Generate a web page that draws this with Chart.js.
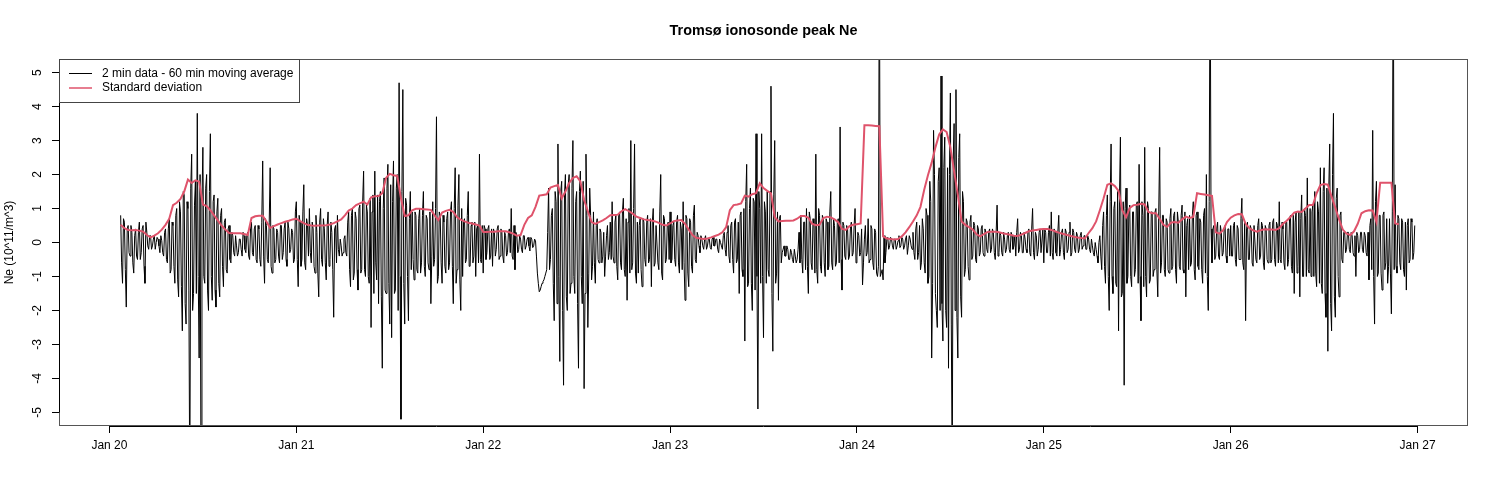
<!DOCTYPE html>
<html lang="en">
<head>
    <meta charset="UTF-8">
    <title>Tromsø ionosonde peak Ne</title>
    <script src="https://cdn.jsdelivr.net/npm/chart.js"></script>
    <style>
        html, body { margin: 0; padding: 0; background: #fff; }
        canvas { display: block; }
    </style>
</head>
<body>
    <canvas id="neChart" width="1500" height="500"></canvas>

    <script>
        // Axis labels
        const dayLabels = ['Jan 20', 'Jan 21', 'Jan 22', 'Jan 23', 'Jan 24', 'Jan 25', 'Jan 26', 'Jan 27'];
        const yTickValues = [-5, -4, -3, -2, -1, 0, 1, 2, 3, 4, 5];

        // 60 min moving average residuals (10^11/m^3), one value every 0.01 day
        const neStart = [0.06, 1, 2, 3, 4, 5, 6];
        const neDay0 = [0.8, -1.2, 0.6, -1.9,
            0.5, -0.4, 0.3, -0.9, 0.4, -0.5, 0.6, -0.3, 0.5, -1.2,
            0.3, -0.2, 0.2, -0.1, 0.2, 0.0, 0.1, -0.3, 0.05, -0.4,
            0.4, -0.6, 0.7, -0.8, 0.5, -1.2, 1.0, -1.6, 0.9, -2.6,
            1.4, -2.4, 1.0, -7.5, 2.6, -1.5, 1.8, 3.8, -3.4, -7.5,
            2.8, -1.2, 2.0, -2.0, 3.2, -1.7, 1.4, -1.9, 1.3, -1.6,
            1.0, -1.3, 0.7, -0.9, 0.5, -0.6, 0.2, -0.4, -0.1, -0.3,
            0.1, -0.4, 0.2, -0.3, 0.3, -0.5, 0.6, -0.4, 0.5, -0.6,
            0.4, -0.7, 2.4, -1.2, 0.5, -0.6, 2.2, -0.9, 0.4, -0.5,
            0.3, -0.6, 0.5, -0.3, 0.6, -0.7, 0.4, -0.2, 0.3, -0.5];
        const neDay1 = [1.2, -1.3, 0.6, -0.5, 1.7, -0.8, 0.5, 1.0, -0.6, 0.4,
            -0.9, 0.3, -1.6, 1.0, -0.7, 0.4, -1.1, 0.9, -0.5, 0.3,
            -2.2, 0.5, 0.8, -0.4, -0.1, -0.3, 0.2, -0.4, 0.9, -1.3,
            1.0, -0.9, 0.7, -1.4, 1.1, -0.8, 2.1, -1.0, 0.9, -1.2,
            -2.5, 1.4, 2.1, -1.1, -1.8, 1.5, -3.7, 1.9, -1.5, 2.3,
            -2.4, -2.8, 2.4, -1.4, 2.0, 4.7, -5.2, 4.5, -2.4, 1.1,
            -2.3, 1.5, 0.9, -1.1, 0.8, -0.9, 1.0, -0.6, 1.5, -1.0,
            0.7, -0.8, -1.8, 1.2, -0.5, 3.7, -1.0, 0.8, -1.2, 0.6,
            -0.9, 0.9, -0.6, 1.2, -1.8, 2.2, -0.8, 2.0, -2.0, -1.0,
            0.7, -0.5, 1.5, -0.7, 0.6, -0.4, -1.0, 0.5, 2.6, -0.6];
        const neDay2 = [-0.9, 0.4, -0.3, 0.5, -0.4, -0.7, 0.3, -0.2, 0.5, -0.4,
            0.3, -0.6, 0.2, -0.3, 0.4, 1.0, -0.5, -0.8, 0.2, -0.2,
            0.1, -0.3, 0.2, -0.1, 0.15, -0.25, 0.1, -0.1, 0.05, -0.9,
            -1.45, -1.3, -1.15, -1.0, -0.8, 1.6, -0.5, 1.0, -2.3, 1.2,
            2.9, -3.5, 1.8, -4.2, 2.0, -2.0, 2.0, -1.2, 3.0, -1.5,
            1.5, -3.7, 2.1, -1.8, -4.3, 2.6, -2.5, 1.6, -1.1, 0.9,
            -1.2, 0.7, -0.6, 0.3, -0.4, -1.0, 0.2, -0.5, 0.6, 1.2,
            -0.6, 0.8, -1.1, 0.9, -0.8, 1.3, -1.0, -1.7, 1.0, 3.0,
            -0.6, 2.9, -1.2, -0.9, 0.7, -1.3, 0.6, -0.7, 0.8, -0.5,
            -1.3, 1.0, -0.6, 0.5, -0.8, 2.0, -1.1, 0.7, -0.5, 0.6];
        const neDay3 = [0.9, -0.5, 0.6, -0.7, 0.8, -0.9, 0.4, 1.2, -1.7, 0.7,
            -1.3, 0.6, -0.9, 1.1, -0.6, 0.2, -0.3, 0.1, -0.2, 0.2,
            -0.1, 0.1, -0.2, 0.15, -0.1, 0.1, -0.3, 0.0, -0.2, 0.3,
            -0.4, 0.5, -0.6, 0.6, -0.9, 0.7, -0.5, -1.5, 0.9, -1.0,
            -2.9, 2.3, -1.2, 1.6, -2.0, 1.2, 3.2, -4.9, 1.0, 3.2,
            -2.8, 0.9, 1.5, -1.0, 4.6, -3.2, 3.0, -0.9, -1.7, 0.8,
            -0.3, -0.1, -0.4, -0.2, -0.5, -0.3, -0.6, -0.4, -0.5, 0.3,
            0.8, -0.9, 0.6, 1.0, -1.5, 0.7, -0.8, 0.5, 2.6, -1.2,
            0.8, -0.9, 0.7, -1.0, 0.6, -0.7, 1.5, -0.8, 0.5, -0.6,
            0.7, 3.4, -1.4, 0.5, -0.5, 0.4, -0.4, 0.6, -0.3, 1.0];
        const neDay4 = [-0.4, 0.2, -0.3, -1.25, 0.1, -0.4, 0.7, -0.5, 0.4, -0.8,
            0.3, -1.0, 9.0, -0.9, -1.1, -0.6, 0.1, -0.2, 0.15, -0.1,
            0.1, -0.2, 0.05, -0.15, 0.15, -0.2, 0.1, -0.35, 0.2, -0.1,
            0.3, -0.5, 0.6, -0.3, -0.8, 0.7, -0.6, 1.0, -1.2, 1.8,
            -3.4, 3.3, -1.5, -2.5, 2.2, 4.9, -2.9, 3.1, -2.5, -3.7,
            4.4, -7.0, 3.5, 4.5, -3.4, 3.2, -2.2, 1.2, -0.8, 0.6,
            -1.1, 0.8, -0.4, 0.5, -0.6, 0.4, -0.3, 0.5, -0.4, 0.3,
            -0.3, 0.4, -0.2, 0.3, -0.5, 1.1, -0.3, 0.2, -0.4, 0.1,
            -0.2, 0.3, -0.3, 0.2, -0.1, -0.4, 0.7, -0.2, 0.2, -0.3,
            0.1, -0.3, 0.4, -0.4, 1.0, -0.5, 0.2, -0.2, 0.4, -0.3];
        const neDay5 = [-0.6, 0.3, -0.3, 0.5, 0.9, -0.5, 0.3, -0.4, 0.8, -0.2,
            0.4, -0.5, 0.3, -0.2, 0.6, -0.3, 0.3, -0.3, 0.2, -0.2,
            0.3, -0.1, 0.2, -0.2, 0.1, -0.3, -0.1, -0.4, -0.2, -0.6,
            0.2, -0.8, 0.9, -1.2, 1.4, -2.0, 2.9, -1.5, 1.2, -1.3,
            -2.6, 3.1, -1.5, -4.2, 1.6, -1.0, 1.1, -1.3, 0.9, -0.8,
            1.2, 2.3, -2.3, 0.8, 2.8, -1.6, 1.0, -1.1, 0.9, -0.8,
            1.0, -1.6, 2.8, -0.6, 0.8, -1.0, 0.6, -0.9, 1.0, -0.7,
            0.9, -1.2, 0.6, -0.8, 1.1, -0.9, -1.6, 0.7, 0.8, -0.6,
            1.2, -1.1, 0.9, -0.8, 0.6, -1.2, 1.0, 2.0, -2.0, 9.0,
            -0.6, 0.5, -0.4, 0.6, -0.5, 0.3, -0.3, 0.5, -0.6, 0.4];
        const neDay6 = [0.5, -0.4, 0.6, -0.7, 0.4, -0.5, 1.3, -0.8, -2.3, 0.6,
            -0.5, 0.4, -0.7, 0.5, -0.6, 0.7, -0.4, 0.5, -0.8, 0.4,
            -0.6, 0.6, -0.5, 0.7, -0.7, 0.5, 1.2, -0.6, 0.4, -0.8,
            0.6, -0.5, 0.8, -0.9, -1.5, 0.9, -0.7, -1.6, 1.4, -1.0,
            0.8, 1.9, -0.9, -1.0, 1.1, 1.5, -1.3, 0.9, 2.2, -1.5,
            2.2, -2.2, -3.2, 2.9, -2.6, 3.8, -2.2, 1.6, -1.6, 0.9,
            -0.6, 0.3, -0.2, 0.3, -0.3, 0.2, -0.4, -1.0, 0.2, -0.2,
            0.3, -0.3, 0.2, -0.4, -1.1, 0.7, 3.3, -2.4, 1.8, -0.9,
            0.8, -1.4, 0.9, -0.6, -1.2, 0.7, -2.1, 9.0, 1.7, -0.9,
            0.7, -0.8, 0.6, -1.0, -1.4, 0.7, -0.5, 0.6, -0.3];

        // in-between readings, half a step (0.005 day) after each value above
        const neMid0 = [-0.6, 0.7, -0.8, 0.4,
            -0.3, 0.5, -0.6, 0.2, -0.4, 0.3, -0.5, 0.4, -0.7, 0.6,
            -0.1, 0.2, -0.2, 0.1, -0.2, 0.15, -0.1, 0.2, -0.3, 0.3,
            -0.5, 0.4, -0.9, 0.6, -0.7, 0.8, -1.1, 1.2, -1.3, 1.5,
            -1.8, 1.2, -1.4, 1.6, -2.0, 1.1, -1.5, -1.0, 2.0, 1.2,
            -1.0, 1.6, -1.4, 1.5, -1.0, 1.2, -1.4, 0.9, -1.2, 0.8,
            -0.7, 0.6, -0.8, 0.4, -0.5, 0.3, -0.3, 0.2, -0.4, 0.1,
            -0.2, 0.3, -0.2, 0.2, -0.4, 0.4, -0.3, 0.4, -0.5, 0.5,
            -0.5, 0.6, -0.4, 0.7, -0.5, 0.6, -0.7, 0.5, -0.6, 0.4,
            -0.4, 0.5, -0.5, 0.4, -0.5, 0.6, -0.3, 0.4, -0.6, 0.9];
        const neMid1 = [-0.5, 0.8, -0.7, 0.9, -0.6, 0.7, -0.4, -0.3, 0.6, -0.7,
            0.8, -0.9, 0.6, -0.5, 0.7, -0.6, 0.5, -0.7, 0.6, -0.8,
            0.4, -0.6, -0.2, 0.1, -0.4, 0.1, -0.3, 0.6, -0.8, 0.8,
            -1.1, 0.9, -0.8, 1.0, -0.9, 1.2, -0.8, 1.1, -1.0, 1.3,
            0.9, -1.5, -0.6, 1.4, 1.2, -1.6, 1.0, -1.4, 1.6, -1.2,
            1.7, 1.2, -1.5, 1.6, -2.0, -1.0, 1.5, -1.2, 1.3, -1.0,
            0.7, -0.8, -0.5, 0.9, -0.8, 0.7, -0.9, 0.8, -0.7, 0.8,
            -0.6, 0.9, -0.4, -0.7, 1.0, -1.2, 0.9, -0.6, 0.8, -0.7,
            0.7, -0.8, 0.9, -0.7, 1.0, -1.2, 1.1, -1.1, 1.0, 0.6,
            -0.6, 0.8, -0.7, 0.5, -0.6, 0.6, 0.4, -0.6, -0.5, 0.5];
        const neMid2 = [0.5, -0.5, 0.4, -0.5, 0.4, 0.4, -0.4, 0.4, -0.5, 0.4,
            -0.4, 0.3, -0.4, 0.3, -0.3, -0.4, 0.5, 0.3, -0.3, 0.2,
            -0.2, 0.2, -0.2, 0.1, -0.1, 0.15, -0.15, 0.1, -0.4, -1.2,
            -1.4, -1.2, -1.1, -0.9, 0.3, -0.8, 0.8, -1.2, 1.5, -1.8,
            -1.0, 1.5, -2.0, 1.4, -1.6, 1.7, -1.5, 1.6, -1.0, 1.2,
            -1.8, 1.5, -1.0, 1.8, -1.5, 0.8, -0.9, 0.8, -0.7, -0.6,
            0.5, -0.5, 0.4, -0.6, 0.3, -0.4, 0.5, -0.3, -0.5, -0.4,
            0.6, -0.7, 0.8, -0.6, 0.9, -0.8, 0.7, 0.6, -0.9, -0.8,
            1.0, -0.9, 0.6, 0.5, -0.8, 0.7, -0.5, 0.6, -0.6, 0.7,
            0.6, -0.7, 0.5, -0.6, 0.9, -0.9, 0.8, -0.6, 0.5, -0.5];
        const neMid3 = [-0.6, 0.5, -0.5, 0.6, -0.6, 0.6, -0.8, -0.6, 0.8, -0.9,
            0.7, -0.7, 0.8, -0.5, 0.3, -0.1, 0.2, -0.1, 0.1, -0.2,
            0.1, -0.15, 0.1, -0.1, 0.1, -0.2, 0.1, -0.1, 0.2, -0.2,
            0.3, -0.4, 0.5, -0.5, 0.6, -0.6, 0.6, 0.8, -0.8, 1.0,
            1.2, -1.3, 1.0, -1.2, 1.3, -1.4, -1.0, 1.5, -1.2, -1.0,
            1.2, -1.2, -0.8, 1.5, -1.5, 1.4, -1.2, 0.9, 0.7, -0.6,
            -0.2, -0.4, -0.1, -0.5, -0.2, -0.5, -0.2, -0.6, -0.2, -0.6,
            -0.5, 0.6, -0.8, -0.7, 0.9, -0.6, 0.7, -0.9, -0.8, 1.0,
            -0.7, 0.8, -0.6, 0.7, -0.8, 0.9, -0.6, 0.7, -0.7, 0.6,
            -0.6, -0.5, 0.6, -0.4, 0.5, -0.5, 0.4, -0.4, 0.5, -0.6];
        const neMid4 = [0.3, -0.4, 0.4, -0.6, 0.5, -0.3, -0.6, 0.5, -0.6, 0.4,
            -0.9, -0.7, -1.0, -0.8, 0.2, -0.3, 0.15, -0.1, 0.1, -0.2,
            0.1, -0.1, 0.2, -0.1, 0.1, -0.1, 0.2, -0.1, 0.1, -0.2,
            -0.3, 0.4, -0.5, 0.5, -0.6, 0.4, -0.9, 0.8, -1.0, 1.2,
            -1.2, 2.0, -2.0, 1.8, -2.0, -1.8, 2.2, -2.0, 2.2, 2.0,
            -2.4, 2.4, -2.0, -2.2, 2.5, -1.6, 1.5, -1.0, 0.7, -0.7,
            0.6, -0.5, 0.6, -0.5, 0.5, -0.4, 0.4, -0.3, 0.4, -0.2,
            0.3, -0.3, 0.4, -0.3, 0.3, -0.4, 0.3, -0.3, 0.3, -0.3,
            0.2, -0.2, 0.3, -0.2, 0.2, 0.3, -0.3, 0.3, -0.3, 0.3,
            -0.2, 0.3, -0.3, 0.4, -0.3, 0.3, -0.4, 0.3, -0.3, 0.4];
        const neMid5 = [0.4, -0.3, 0.3, -0.4, -0.3, 0.4, -0.3, 0.3, -0.4, 0.3,
            -0.3, 0.4, -0.3, 0.3, -0.4, 0.4, -0.2, 0.3, -0.3, 0.2,
            -0.2, 0.2, -0.2, 0.2, -0.2, 0.1, -0.3, 0.0, -0.4, 0.0,
            -0.4, 0.5, -0.7, 0.8, -1.0, 1.2, -1.0, 1.0, -1.2, 1.5,
            1.4, -1.6, 1.2, 1.0, -1.2, 0.9, -1.0, 0.9, -1.0, 1.1,
            -1.2, -1.0, 1.2, -1.3, -1.0, 1.2, -1.2, 0.9, -1.0, 0.9,
            -0.8, 0.9, -0.9, 0.8, -0.8, 0.7, -0.8, 0.7, -0.8, 0.8,
            -0.8, 0.9, -0.7, 0.8, -0.8, 0.9, 0.5, -0.8, -0.7, 0.8,
            -0.8, 0.8, -0.7, 0.7, -0.8, 0.8, -0.9, -1.0, 1.2, 0.4,
            0.4, -0.5, 0.4, -0.4, 0.5, -0.4, 0.4, -0.4, 0.4, -0.4];
        const neMid6 = [-0.4, 0.5, -0.5, 0.5, -0.5, 0.7, -0.6, 0.6, 0.4, -0.5,
            0.5, -0.6, 0.5, -0.5, 0.5, -0.5, 0.6, -0.6, 0.5, -0.5,
            0.5, -0.6, 0.6, -0.5, 0.6, -0.6, -0.5, 0.6, -0.6, 0.6,
            -0.7, 0.7, -0.7, 0.8, 0.6, -0.9, 0.9, 0.7, -1.0, 1.0,
            -1.0, -0.8, 1.0, 0.9, -1.0, -0.9, 1.2, -1.2, -1.2, 1.5,
            -1.5, 1.6, 1.6, -1.8, 2.0, -1.6, 1.3, -1.0, 0.8, -0.5,
            0.3, -0.3, 0.3, -0.2, 0.3, -0.3, 0.2, 0.3, -0.3, 0.3,
            -0.2, 0.3, -0.3, 0.3, 0.5, -0.8, -1.0, 1.2, -1.0, 0.8,
            -0.9, 0.8, -0.8, 0.7, -0.7, -0.9, 0.9, -0.8, -0.7, 0.8,
            -0.6, 0.7, -0.8, 0.6, 0.5, -0.6, 0.7, -0.5, 0.5];

        // Standard deviation, one value every 0.02 day
        const sdStart = [0.06, 1, 2, 3, 4, 5, 6];
        const sdDay0 = [0.52, 0.42, 0.37, 0.36, 0.37, 0.35, 0.32, 0.22, 0.15, 0.2,
            0.27, 0.38, 0.52, 0.7, 1.1, 1.17, 1.28, 1.5, 1.85, 1.75,
            1.83, 1.79, 1.12, 1.07, 0.95, 0.8, 0.65, 0.5, 0.38, 0.28,
            0.27, 0.27, 0.27, 0.25, 0.22, 0.72, 0.77, 0.79, 0.79, 0.62,
            0.43, 0.48, 0.53, 0.57, 0.61, 0.64, 0.68];
        const sdDay1 = [0.7, 0.63, 0.57, 0.52, 0.5, 0.49, 0.5, 0.5, 0.51, 0.53,
            0.57, 0.62, 0.68, 0.8, 0.94, 1.0, 1.1, 1.15, 1.2, 1.12,
            1.33, 1.36, 1.37, 1.45, 1.9, 2.02, 1.98, 1.96, 1.3, 0.78,
            0.8, 0.95, 0.99, 0.99, 0.98, 0.97, 0.96, 0.8, 0.66, 0.88,
            0.93, 0.96, 0.9, 0.75, 0.67, 0.62, 0.58, 0.56, 0.53, 0.5];
        const sdDay2 = [0.31, 0.31, 0.32, 0.32, 0.33, 0.33, 0.33, 0.3, 0.26, 0.2,
            0.22, 0.52, 0.72, 0.8, 1.05, 1.38, 1.4, 1.42, 1.62, 1.66,
            1.69, 1.3, 1.5, 1.75, 1.9, 1.95, 1.8, 1.25, 0.92, 0.6,
            0.55, 0.6, 0.65, 0.72, 0.8, 0.81, 0.82, 0.92, 0.98, 0.92,
            0.85, 0.76, 0.72, 0.68, 0.66, 0.65, 0.62, 0.58, 0.52, 0.5];
        const sdDay3 = [0.56, 0.63, 0.65, 0.66, 0.55, 0.38, 0.22, 0.14, 0.12, 0.1,
            0.12, 0.15, 0.19, 0.23, 0.3, 0.45, 0.95, 1.1, 1.12, 1.15,
            1.38, 1.35, 1.42, 1.45, 1.74, 1.6, 1.52, 1.45, 0.75, 0.62,
            0.63, 0.64, 0.64, 0.65, 0.7, 0.78, 0.78, 0.73, 0.55, 0.51,
            0.52, 0.72, 0.76, 0.74, 0.68, 0.6, 0.4, 0.37, 0.48, 0.52];
        const sdDay4 = [0.54, 0.56, 3.45, 3.45, 3.44, 3.43, 3.42, 0.18, 0.12, 0.1,
            0.09, 0.1, 0.18, 0.3, 0.45, 0.62, 0.8, 1.05, 1.55, 1.98,
            2.35, 2.8, 3.18, 3.33, 3.25, 2.8, 2.1, 1.4, 0.62, 0.52,
            0.45, 0.38, 0.24, 0.18, 0.25, 0.31, 0.32, 0.32, 0.3, 0.27,
            0.25, 0.23, 0.2, 0.19, 0.23, 0.28, 0.33, 0.35, 0.37, 0.39];
        const sdDay5 = [0.4, 0.4, 0.37, 0.33, 0.29, 0.26, 0.23, 0.2, 0.17, 0.15,
            0.13, 0.12, 0.28, 0.42, 0.62, 0.95, 1.3, 1.7, 1.74, 1.66,
            1.52, 0.95, 0.74, 1.02, 1.1, 1.11, 1.14, 1.12, 0.9, 0.86,
            0.86, 0.7, 0.52, 0.46, 0.58, 0.6, 0.58, 0.68, 0.76, 0.72,
            0.75, 1.45, 1.43, 1.41, 1.39, 1.37, 0.3, 0.26, 0.36, 0.6];
        const sdDay6 = [0.73, 0.8, 0.84, 0.83, 0.55, 0.42, 0.36, 0.32, 0.36, 0.39,
            0.38, 0.38, 0.37, 0.42, 0.55, 0.64, 0.75, 0.88, 0.91, 0.9,
            1.0, 1.1, 1.1, 1.45, 1.69, 1.72, 1.7, 1.35, 1.02, 0.68,
            0.38, 0.26, 0.22, 0.33, 0.55, 0.86, 0.92, 0.95, 0.94, 0.6,
            1.76, 1.76, 1.76, 1.76, 0.56, 0.54];

        const FONT = '"Liberation Sans", Arial, Helvetica, sans-serif';

        function toPoints(days, starts, step, shift) {
            const pts = [];
            days.forEach((vals, d) => {
                vals.forEach((v, i) => {
                    pts.push({ x: Math.round((starts[d] + shift + i * step) * 10000) / 10000, y: v });
                });
            });
            return pts;
        }

        const nePoints = toPoints([neDay0, neDay1, neDay2, neDay3, neDay4, neDay5, neDay6], neStart, 0.01, 0)
            .concat(toPoints([neMid0, neMid1, neMid2, neMid3, neMid4, neMid5, neMid6], neStart, 0.01, 0.005))
            .sort((a, b) => a.x - b.x);
        const sdPoints = toPoints([sdDay0, sdDay1, sdDay2, sdDay3, sdDay4, sdDay5, sdDay6], sdStart, 0.02, 0);

        // R style base graphics: title, rotated y labels, box and legend
        const rStyle = {
            id: 'rStyle',
            afterDraw(chart) {
                const { ctx, chartArea: a, scales: { x, y } } = chart;
                ctx.save();
                ctx.fillStyle = '#000';
                ctx.textAlign = 'center';
                ctx.textBaseline = 'middle';

                ctx.font = 'bold 14.4px ' + FONT;
                ctx.fillText('Tromsø ionosonde peak Ne', (a.left + a.right) / 2, 31);

                ctx.font = '12px ' + FONT;
                yTickValues.forEach(v => {
                    ctx.save();
                    ctx.translate(38, y.getPixelForValue(v));
                    ctx.rotate(-Math.PI / 2);
                    ctx.fillText(String(v), 0, 0);
                    ctx.restore();
                });
                ctx.save();
                ctx.translate(10, (a.top + a.bottom) / 2);
                ctx.rotate(-Math.PI / 2);
                ctx.fillText('Ne (10^11/m^3)', 0, 0);
                ctx.restore();

                // plot box
                ctx.strokeStyle = '#555';
                ctx.lineWidth = 1;
                ctx.strokeRect(a.left + 0.5, a.top + 0.5, a.right - a.left - 1, a.bottom - a.top - 1);

                // axis lines between first and last tick
                ctx.strokeStyle = '#000';
                ctx.beginPath();
                ctx.moveTo(x.getPixelForValue(0), a.bottom + 0.5);
                ctx.lineTo(x.getPixelForValue(7), a.bottom + 0.5);
                ctx.moveTo(a.left + 0.5, y.getPixelForValue(5));
                ctx.lineTo(a.left + 0.5, y.getPixelForValue(-5));
                ctx.stroke();

                // legend
                const lx = a.left, ly = a.top;
                ctx.fillStyle = '#fff';
                ctx.fillRect(lx + 0.5, ly + 0.5, 240, 43);
                ctx.strokeStyle = '#444';
                ctx.strokeRect(lx + 0.5, ly + 0.5, 240, 43);
                ctx.lineWidth = 1;
                ctx.strokeStyle = '#000';
                ctx.beginPath();
                ctx.moveTo(lx + 10, ly + 14.5);
                ctx.lineTo(lx + 33, ly + 14.5);
                ctx.stroke();
                ctx.strokeStyle = '#DF536B';
                ctx.lineWidth = 1.5;
                ctx.beginPath();
                ctx.moveTo(lx + 10, ly + 29);
                ctx.lineTo(lx + 33, ly + 29);
                ctx.stroke();
                ctx.fillStyle = '#000';
                ctx.textAlign = 'left';
                ctx.fillText('2 min data - 60 min moving average', lx + 43, ly + 14.5);
                ctx.fillText('Standard deviation', lx + 43, ly + 29);
                ctx.restore();
            }
        };

        new Chart(document.getElementById('neChart').getContext('2d'), {
            type: 'line',
            data: {
                datasets: [{
                    label: '2 min data - 60 min moving average',
                    data: nePoints,
                    borderColor: '#000',
                    borderWidth: 1,
                    pointRadius: 0,
                    tension: 0,
                    order: 2
                }, {
                    label: 'Standard deviation',
                    data: sdPoints,
                    borderColor: '#DF536B',
                    borderWidth: 2,
                    pointRadius: 0,
                    tension: 0,
                    order: 1
                }]
            },
            options: {
                responsive: false,
                animation: false,
                parsing: false,
                layout: { padding: { top: 59, right: 32, left: 0, bottom: 0 } },
                plugins: {
                    legend: { display: false },
                    tooltip: { enabled: false },
                    title: { display: false }
                },
                scales: {
                    x: {
                        type: 'linear',
                        min: -0.27,
                        max: 7.27,
                        afterBuildTicks: s => { s.ticks = dayLabels.map((_, i) => ({ value: i })); },
                        afterFit: s => { s.height = 74; },
                        ticks: {
                            callback: v => dayLabels[v],
                            color: '#000',
                            font: { family: FONT, size: 12 },
                            padding: 5,
                            maxRotation: 0,
                            autoSkip: false
                        },
                        grid: { drawOnChartArea: false, tickLength: 7, tickColor: '#000' },
                        border: { display: false }
                    },
                    y: {
                        type: 'linear',
                        min: -5.4,
                        max: 5.4,
                        afterBuildTicks: s => { s.ticks = yTickValues.map(v => ({ value: v })); },
                        afterFit: s => { s.width = 59; },
                        ticks: { display: false },
                        grid: { drawOnChartArea: false, tickLength: 7, tickColor: '#000' },
                        border: { display: false }
                    }
                }
            },
            plugins: [rStyle]
        });
    </script>
</body>
</html>
